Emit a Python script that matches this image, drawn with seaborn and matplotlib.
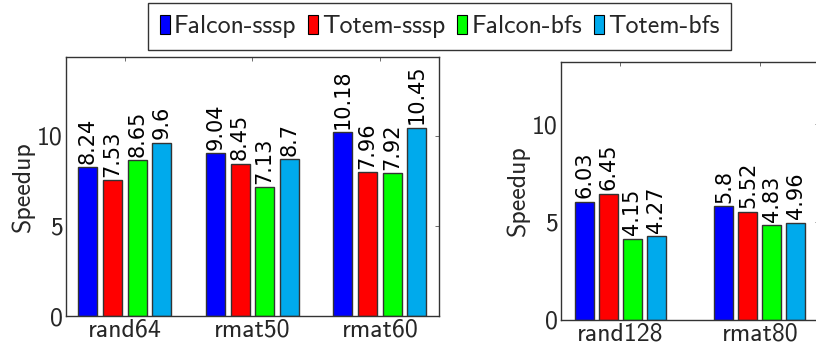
import matplotlib
matplotlib.use("Agg")
import matplotlib.pyplot as plt
import seaborn as sns
import pandas as pd
from matplotlib.patches import Patch

# ---- data ----
systems = ["Falcon-sssp", "Totem-sssp", "Falcon-bfs", "Totem-bfs"]
colors = ["#0000FF", "#FF0000", "#00FF00", "#00AAEC"]

cats_left = ["rand64", "rmat50", "rmat60"]
falcon_sssp_left = [8.24, 9.04, 10.18]
totem_sssp_left = [7.53, 8.45, 7.96]
falcon_bfs_left = [8.65, 7.13, 7.92]
totem_bfs_left = [9.6, 8.7, 10.45]

cats_right = ["rand128", "rmat80"]
falcon_sssp_right = [6.03, 5.8]
totem_sssp_right = [6.45, 5.52]
falcon_bfs_right = [4.15, 4.83]
totem_bfs_right = [4.27, 4.96]

yticks = [0, 5, 10]


def make_df(cats, series):
    rows = []
    for sys_name, vals in zip(systems, series):
        for c, v in zip(cats, vals):
            rows.append({"graph": c, "system": sys_name, "speedup": v})
    return pd.DataFrame(rows)


df_left = make_df(cats_left, [falcon_sssp_left, totem_sssp_left, falcon_bfs_left, totem_bfs_left])
df_right = make_df(cats_right, [falcon_sssp_right, totem_sssp_right, falcon_bfs_right, totem_bfs_right])

sns.set_style("white")
plt.rcParams["axes.unicode_minus"] = False
TICKFONT = "cmss10"
LABELFONT = "DejaVu Sans"
FS = 18.6

W, H = 816, 346
fig = plt.figure(figsize=(W / 100, H / 100), dpi=100)

# axes positions in pixels (left, top, right, bottom)
ax_l = fig.add_axes([65.7 / W, (H - 316) / H, (439 - 65.7) / W, (316 - 57.3) / H])
ax_r = fig.add_axes([560.7 / W, (H - 319.5) / H, (819.3 - 560.7) / W, (319.5 - 61.7) / H])


def draw(ax, df, cats, width, gap, xlim, ylim):
    sns.barplot(data=df, x="graph", y="speedup", hue="system", order=cats,
                hue_order=systems, palette=colors, width=width, gap=gap,
                edgecolor="#333333", linewidth=1.0, saturation=1, ax=ax,
                legend=False, errorbar=None)
    ax.set_xlim(*xlim)
    ax.set_ylim(*ylim)
    ax.set_yticks(yticks)
    ax.set_xlabel("")
    ax.set_ylabel("Speedup", fontsize=FS, family=TICKFONT, labelpad=2)
    for lab in ax.get_xticklabels() + ax.get_yticklabels():
        lab.set_fontfamily(TICKFONT)
        lab.set_fontsize(FS)
    ax.tick_params(direction="in", length=3, width=0.6, color="#555555",
                   top=True, right=True, pad=2)
    ax.tick_params(axis="x", pad=2)
    for s in ax.spines.values():
        s.set_visible(True)
        s.set_color("#333333")
        s.set_linewidth(1.0)
    for cont in ax.containers:
        labels = [f"{v:g}" for v in cont.datavalues]
        ax.bar_label(cont, labels=labels, rotation=90, padding=2.5,
                     fontsize=15, family=LABELFONT, color="black")


draw(ax_l, df_left, cats_left, 0.774, 0.23, (-0.464, 2.464), (0, 14.35))
draw(ax_r, df_right, cats_right, 0.686, 0.21, (-0.424, 1.424), (0, 13.22))

handles = [Patch(facecolor=c, edgecolor="black", linewidth=0.8) for c in colors]
leg = fig.legend(handles, systems, loc="center", bbox_to_anchor=(439.5 / W, 1 - 26.5 / H),
                 ncol=4, frameon=True, fancybox=False, handlelength=0.4,
                 handleheight=0.8, handletextpad=0.15, columnspacing=0.45,
                 borderpad=0.45, borderaxespad=0, prop={"family": TICKFONT, "size": FS})
leg.get_frame().set_edgecolor("black")
leg.get_frame().set_linewidth(1.0)

fig.savefig("out.png", dpi=100)
